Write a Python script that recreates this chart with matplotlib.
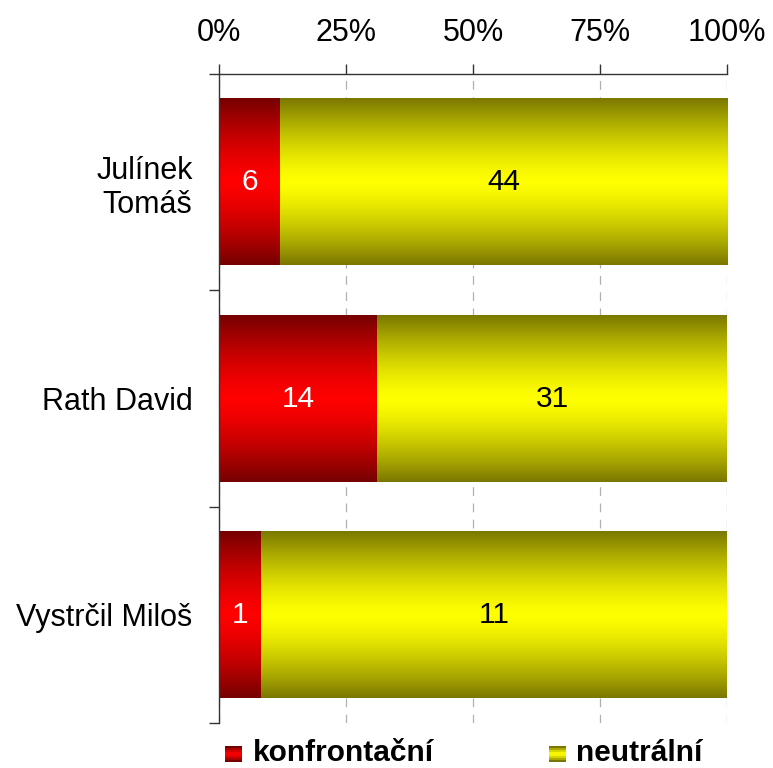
import matplotlib
matplotlib.use("Agg")
import matplotlib.pyplot as plt
import numpy as np

# Data
candidates = ["Julínek\nTomáš", "Rath David", "Vystrčil Miloš"]
konfrontacni = [6, 14, 1]
neutralni = [44, 31, 11]
series_names = ["konfrontační", "neutrální"]
pct_ticks = [0, 25, 50, 75, 100]

plt.rcParams["font.family"] = ["Liberation Sans", "DejaVu Sans"]

RED_DARK = np.array([0.46, 0.0, 0.0])
RED_LIGHT = np.array([1.0, 0.0, 0.0])
YEL_DARK = np.array([0.48, 0.47, 0.0])
YEL_LIGHT = np.array([1.0, 1.0, 0.0])


def gradient(dark, light, n=200):
    t = np.linspace(-1, 1, n)
    frac = 1 - np.abs(t) ** 1.4
    rows = dark[None, :] + (light - dark)[None, :] * frac[:, None]
    return rows[:, None, :]


def fill_gradient(ax, patches, dark, light):
    img = gradient(dark, light)
    for p in patches:
        x0, y0 = p.get_x(), p.get_y()
        w, h = p.get_width(), p.get_height()
        ax.imshow(img, extent=[x0, x0 + w, y0, y0 + h], aspect="auto",
                  interpolation="bilinear", zorder=2)
        p.set_facecolor("none")


konf = np.array(konfrontacni, dtype=float)
neut = np.array(neutralni, dtype=float)
total = konf + neut
konf_pct = konf / total * 100
neut_pct = neut / total * 100
y = np.arange(len(candidates))

W, H = 773, 768
fig = plt.figure(figsize=(W / 100, H / 100), dpi=100)
ax = fig.add_axes([219 / W, 1 - 723 / H, (727 - 219) / W, (723 - 74) / H])

bar_h = 0.77
b1 = ax.barh(y, konf_pct, height=bar_h, color="none", zorder=2)
b2 = ax.barh(y, neut_pct, left=konf_pct, height=bar_h, color="none", zorder=2)
fill_gradient(ax, b1, RED_DARK, RED_LIGHT)
fill_gradient(ax, b2, YEL_DARK, YEL_LIGHT)

for i in range(len(candidates)):
    ax.text(konf_pct[i] / 2, y[i], f"{konfrontacni[i]}", ha="center",
            va="center", color="white", fontsize=21.5, zorder=3)
    ax.text(konf_pct[i] + neut_pct[i] / 2, y[i], f"{neutralni[i]}",
            ha="center", va="center", color="black", fontsize=21.5, zorder=3)

ax.set_xlim(0, 100)
ax.set_ylim(len(candidates) - 0.5, -0.5)

ax.xaxis.tick_top()
ax.set_xticks(pct_ticks)
ax.set_xticklabels([f"{v}%" for v in pct_ticks], fontsize=22)
ax.tick_params(axis="x", direction="out", length=7, width=1, color="#333333",
               pad=12)
ax.set_yticks(y)
ax.set_yticklabels(candidates, fontsize=22)
ax.set_yticks(np.arange(len(candidates) + 1) - 0.5, minor=True)
ax.tick_params(axis="y", which="major", length=0, pad=19)
ax.tick_params(axis="y", which="minor", direction="out", length=7, width=1,
               color="#333333")

ax.xaxis.grid(True, color="#b0b0b0", linestyle=(0, (7, 6)), linewidth=0.9)
ax.set_axisbelow(True)

for side in ["right", "bottom"]:
    ax.spines[side].set_visible(False)
for side in ["left", "top"]:
    ax.spines[side].set_color("#333333")
    ax.spines[side].set_linewidth(1)

# legend with gradient swatches
legend_items = [(225, 253, RED_DARK, RED_LIGHT), (549, 576, YEL_DARK, YEL_LIGHT)]
for (mx, tx, dark, light), name in zip(legend_items, series_names):
    sw = fig.add_axes([mx / W, 1 - 762 / H, 17 / W, 16 / H])
    sw.imshow(gradient(dark, light, 8), aspect="auto", interpolation="nearest")
    sw.axis("off")
    fig.text(tx / W, 1 - 761 / H, name, ha="left", va="baseline",
             fontsize=21.5, weight="bold")

fig.savefig("out.png", dpi=100, facecolor="white")
